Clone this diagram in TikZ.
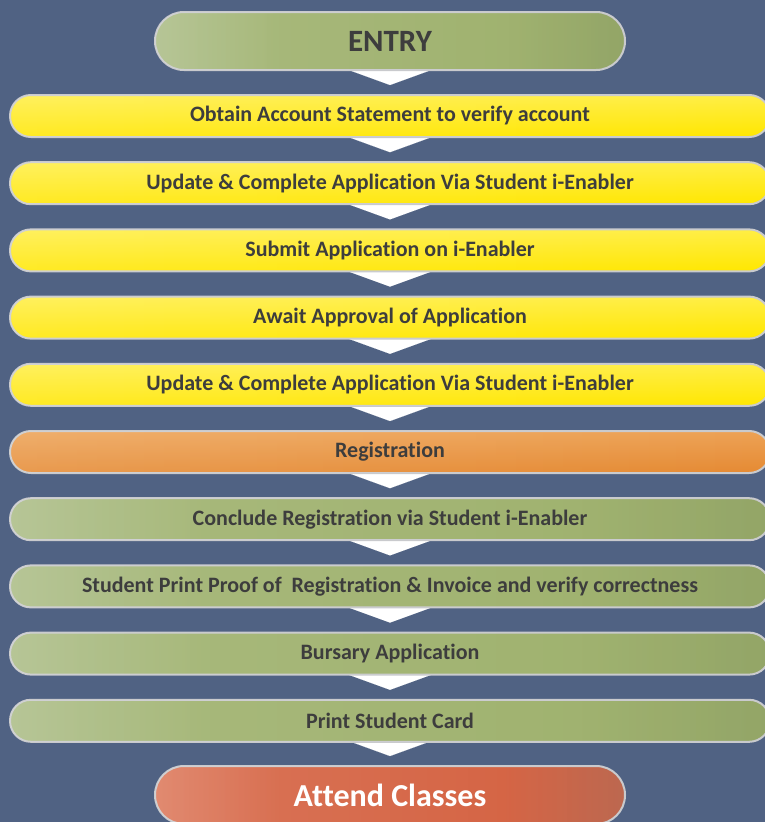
\documentclass[tikz,border=0pt]{standalone}
\usepackage{fontspec}
\setmainfont{Carlito}[Ligatures={NoCommon,NoContextual}]
\usetikzlibrary{calc,arrows.meta,fadings}
\definecolor{bgc}{HTML}{506283}
\definecolor{bordc}{HTML}{C9CACD}
\definecolor{txt}{HTML}{3D3D3D}
\definecolor{gL}{HTML}{ABBD86}
\definecolor{gM}{HTML}{9DB06B}
\definecolor{gR}{HTML}{93A567}
\definecolor{yT}{HTML}{FFEE45}
\definecolor{yM}{HTML}{F9E112}
\definecolor{yB}{HTML}{FFE700}
\definecolor{oT}{HTML}{EDA255}
\definecolor{oM}{HTML}{E8923C}
\definecolor{oB}{HTML}{E58A33}
\definecolor{rL}{HTML}{DD785A}
\definecolor{rM}{HTML}{D4603F}
\definecolor{rR}{HTML}{BC6850}
\pgfdeclarehorizontalshading{greenbar}{100bp}{color(0bp)=(gL);color(25bp)=(gL);color(38bp)=(gM);color(62bp)=(gM);color(75bp)=(gR);color(100bp)=(gR)}
\pgfdeclarehorizontalshading{redbar}{100bp}{color(0bp)=(rL);color(25bp)=(rL);color(38bp)=(rM);color(62bp)=(rM);color(75bp)=(rR);color(100bp)=(rR)}
\tikzfading[name=hlfade, left color=transparent!55, middle color=transparent!100, right color=transparent!100]
\pgfdeclarelayer{back}
\pgfdeclarelayer{mid}
\pgfsetlayers{back,mid,main}
\tikzset{
  bar/.style={rectangle, rounded corners=20.9pt, minimum width=760pt, minimum height=42pt,
    line width=2pt, draw=bordc, text=txt, inner sep=0pt,
    font=\bfseries\fontsize{22}{26}\selectfont,
    postaction={fill=white, fill opacity=0.3, path fading=hlfade}},
  ybar/.style={top color=yT, middle color=yM, bottom color=yB},
  gbar/.style={shading=greenbar},
  obar/.style={top color=oT, middle color=oM, bottom color=oB},
  endbox/.style={rectangle, rounded corners=28.9pt, minimum width=470pt, minimum height=58pt,
    line width=2pt, draw=bordc, inner sep=0pt,
    postaction={fill=white, fill opacity=0.3, path fading=hlfade}},
  flowarrow/.style={white, line width=0.01pt, -{Triangle[width=88pt,length=16pt]}, shorten >=9pt}
}
\begin{document}
\begin{tikzpicture}[x=1pt,y=-1pt]
\useasboundingbox (0,0) rectangle (765,822);
\begin{pgfonlayer}{back}
\fill[bgc] (0,0) rectangle (765,822);
\end{pgfonlayer}
\node[endbox, gbar, text=txt, font=\bfseries\fontsize{31}{36}\selectfont] (entry) at (390,41) {ENTRY};
\node[bar, ybar] (s1) at (390,116.0) {Obtain Account Statement to verify account};
\node[bar, ybar] (s2) at (390,183.2) {Update \& Complete Application Via Student i-Enabler};
\node[bar, ybar] (s3) at (390,250.4) {Submit Application on i-Enabler};
\node[bar, ybar] (s4) at (390,317.6) {Await Approval of Application};
\node[bar, ybar] (s5) at (390,384.8) {Update \& Complete Application Via Student i-Enabler};
\node[bar, obar] (s6) at (390,452.0) {Registration};
\node[bar, gbar] (s7) at (390,519.2) {Conclude Registration via Student i-Enabler};
\node[bar, gbar] (s8) at (390,586.4) {Student Print Proof of~ Registration \& Invoice and verify correctness};
\node[bar, gbar] (s9) at (390,653.6) {Bursary Application};
\node[bar, gbar] (s10) at (390,720.8) {Print Student Card};
\node[endbox, shading=redbar, text=white, font=\bfseries\fontsize{32}{38}\selectfont] (attend) at (390,795) {Attend Classes};
\begin{pgfonlayer}{mid}
\draw[flowarrow] (entry.south) -- (s1.north);
\draw[flowarrow] (s1.south) -- (s2.north);
\draw[flowarrow] (s2.south) -- (s3.north);
\draw[flowarrow] (s3.south) -- (s4.north);
\draw[flowarrow] (s4.south) -- (s5.north);
\draw[flowarrow] (s5.south) -- (s6.north);
\draw[flowarrow] (s6.south) -- (s7.north);
\draw[flowarrow] (s7.south) -- (s8.north);
\draw[flowarrow] (s8.south) -- (s9.north);
\draw[flowarrow] (s9.south) -- (s10.north);
\draw[flowarrow] (s10.south) -- (attend.north);
\end{pgfonlayer}
\end{tikzpicture}
\end{document}
